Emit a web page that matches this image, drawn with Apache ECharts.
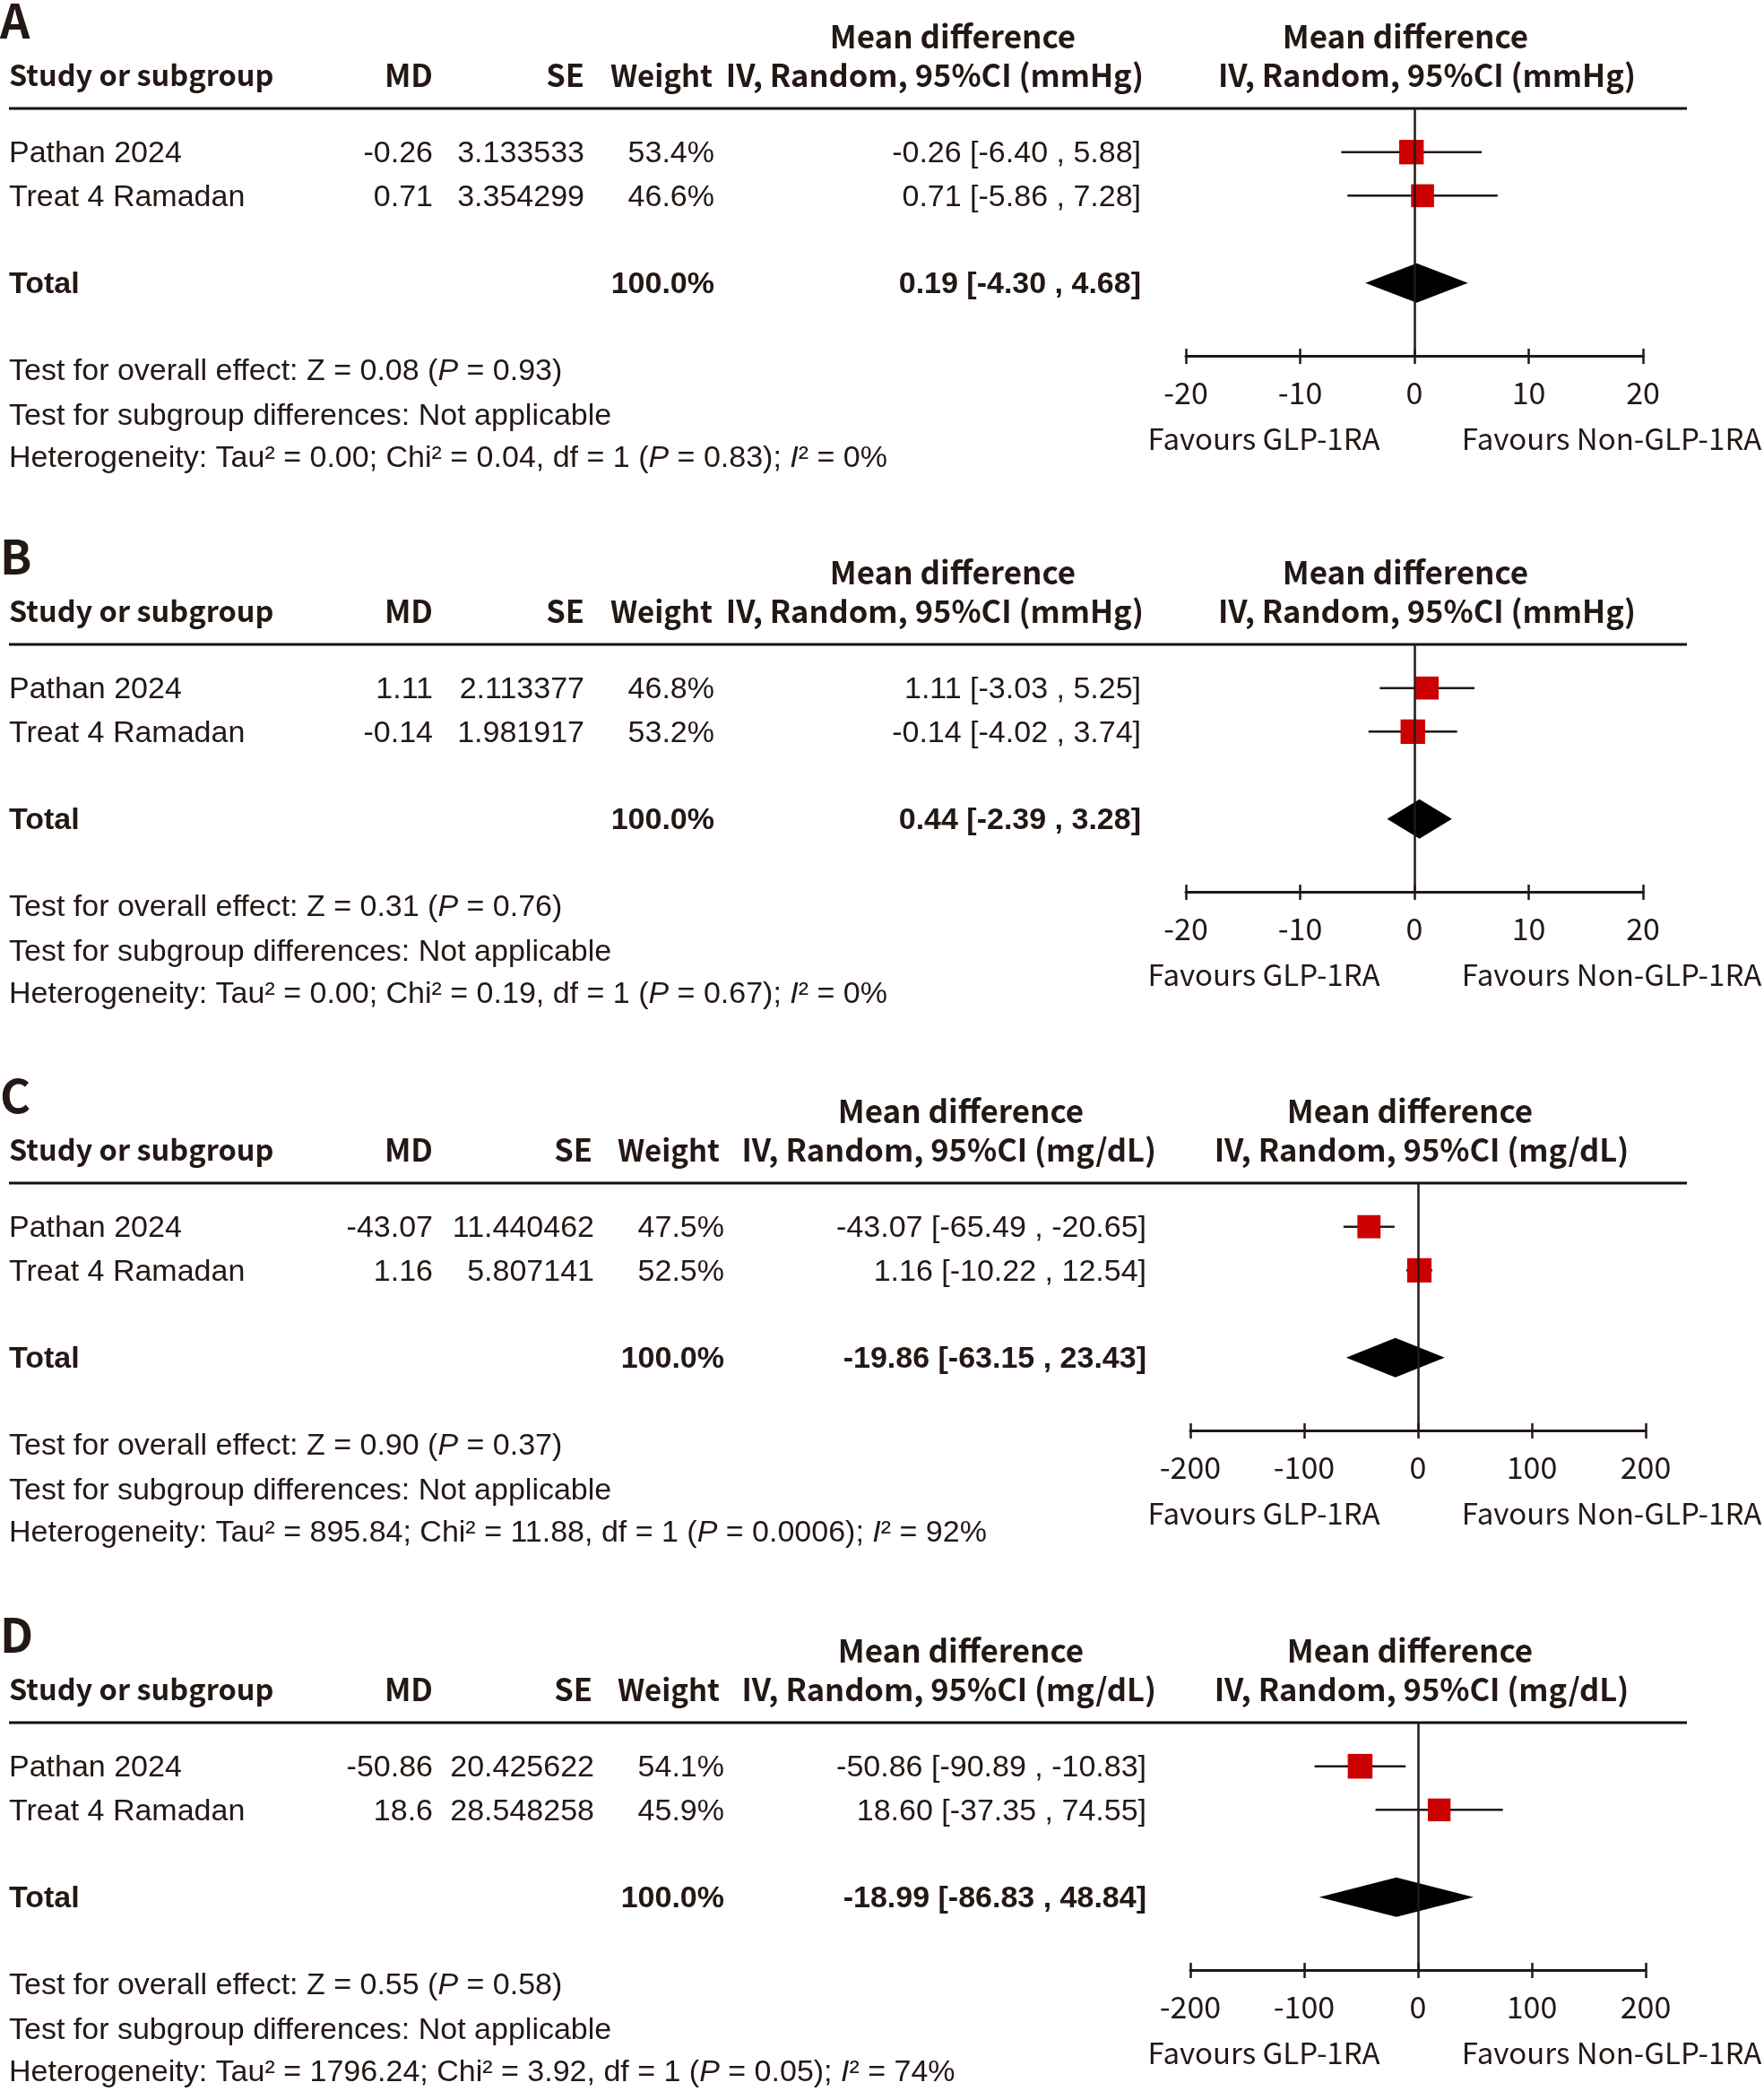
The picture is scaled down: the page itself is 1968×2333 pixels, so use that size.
<!DOCTYPE html>
<html><head><meta charset="utf-8">
<script src="https://cdn.jsdelivr.net/npm/echarts@6/dist/echarts.min.js"></script>
<style>html,body{margin:0;padding:0;background:#fff}#c{width:1968px;height:2333px}</style>
</head><body><div id="c"></div>
<script>
// ---------------- DATA ----------------
const panelLabels = ['A', 'B', 'C', 'D'];
const units = ['mmHg', 'mmHg', 'mg/dL', 'mg/dL'];
const studies = ['Pathan 2024', 'Treat 4 Ramadan'];

const mdA = [-0.26, 0.71];
const seA = ['3.133533', '3.354299'];
const weightA = [53.4, 46.6];
const ciLowA = [-6.40, -5.86];
const ciHighA = [5.88, 7.28];
const totalA = [0.19, -4.30, 4.68];

const mdB = [1.11, -0.14];
const seB = ['2.113377', '1.981917'];
const weightB = [46.8, 53.2];
const ciLowB = [-3.03, -4.02];
const ciHighB = [5.25, 3.74];
const totalB = [0.44, -2.39, 3.28];

const mdC = [-43.07, 1.16];
const seC = ['11.440462', '5.807141'];
const weightC = [47.5, 52.5];
const ciLowC = [-65.49, -10.22];
const ciHighC = [-20.65, 12.54];
const totalC = [-19.86, -63.15, 23.43];

const mdD = [-50.86, 18.6];
const seD = ['20.425622', '28.548258'];
const weightD = [54.1, 45.9];
const ciLowD = [-90.89, -37.35];
const ciHighD = [-10.83, 74.55];
const totalD = [-18.99, -86.83, 48.84];

const ticksAB = [-20, -10, 0, 10, 20];
const ticksCD = [-200, -100, 0, 100, 200];

const zValues = ['0.08', '0.31', '0.90', '0.55'];
const pOverall = ['0.93', '0.76', '0.37', '0.58'];
const tau2 = ['0.00', '0.00', '895.84', '1796.24'];
const chi2 = ['0.04', '0.19', '11.88', '3.92'];
const dfs = ['1', '1', '1', '1'];
const pHet = ['0.83', '0.67', '0.0006', '0.05'];
const i2 = ['0%', '0%', '92%', '74%'];

const leftFavour = 'Favours GLP-1RA';
const rightFavour = 'Favours Non-GLP-1RA';

const studyRows = [1, 2];   // row index on the plot's y scale
const totalRow = 4;

// ---------------- LAYOUT ----------------
const panels = [
  {md: mdA, se: seA, w: weightA, lo: ciLowA, hi: ciHighA, tot: totalA, ticks: ticksAB},
  {md: mdB, se: seB, w: weightB, lo: ciLowB, hi: ciHighB, tot: totalB, ticks: ticksAB},
  {md: mdC, se: seC, w: weightC, lo: ciLowC, hi: ciHighC, tot: totalC, ticks: ticksCD},
  {md: mdD, se: seD, w: weightD, lo: ciLowD, hi: ciHighD, tot: totalD, ticks: ticksCD}
];
const offsets = [0, 598, 1199, 1801];
const colsAB = {mdR: 483, seR: 652, wR: 797, ciR: 1273, hSeR: 652, hWR: 795, mid1C: 1063, mid2R: 1276, r1C: 1568, r2C: 1592, axL: 1323, axR: 1833};
const colsCD = {mdR: 483, seR: 663, wR: 808, ciR: 1279, hSeR: 661, hWR: 803, mid1C: 1072, mid2R: 1290, r1C: 1573, r2C: 1586, axL: 1328, axR: 1836};
const COL = '#231815';
const FH = "'Noto Sans CJK JP', 'Noto Sans', sans-serif";        // headers / axis
const FB = "'Liberation Sans', Arial, sans-serif";                // table body
const FS = 34;     // body size
const HS = 34.5;   // header size
const AS = 34;     // axis label size
const BODY_DY = 2;
const GRID_TOP = 121, GRID_H = 276, Y_MAX = 5.67;

function rowY(off, r) { return off + GRID_TOP + r / Y_MAX * GRID_H; }

const chart = echarts.init(document.getElementById('c'), null, {renderer: 'canvas'});

const grid = [], xAxis = [], yAxis = [], series = [], graphic = [];

function txt(x, y, text, align, bold, size, fam) {
  graphic.push({type: 'text', x: x, y: y, silent: true, style: {
    text: text, fill: COL, font: (bold ? 'bold ' : '') + (size || FS) + 'px ' + (fam || FB),
    align: align || 'left', verticalAlign: 'middle'}});
}
function rich(x, y, text) {
  const base = {fontSize: FS, fontFamily: FB, fill: COL};
  graphic.push({type: 'text', x: x, y: y, silent: true, style: {
    text: text, align: 'left', verticalAlign: 'middle', fontSize: FS, fontFamily: FB, fill: COL,
    rich: {n: base, i: Object.assign({}, base, {fontStyle: 'italic'})}}});
}

panels.forEach((p, k) => {
  const off = offsets[k];
  const c = k < 2 ? colsAB : colsCD;
  const u = units[k];
  const tmin = p.ticks[0], tmax = p.ticks[p.ticks.length - 1];
  grid.push({left: c.axL, width: c.axR - c.axL, top: off + GRID_TOP, height: GRID_H, containLabel: false});
  const axBase = {type: 'value', gridIndex: k, min: tmin, max: tmax, interval: p.ticks[1] - p.ticks[0], splitLine: {show: false}};
  xAxis.push(Object.assign({}, axBase, {
    position: 'bottom',
    axisLine: {show: true, onZero: false, lineStyle: {color: COL, width: 3}},
    axisTick: {show: true, inside: false, length: 9, lineStyle: {color: COL, width: 2.5}},
    axisLabel: {show: true, color: COL, fontSize: AS, fontFamily: FH, margin: 24}
  }));
  xAxis.push(Object.assign({}, axBase, {
    position: 'bottom',
    axisLine: {show: false, onZero: false},
    axisTick: {show: true, inside: true, length: 8, lineStyle: {color: COL, width: 2.5}},
    axisLabel: {show: false}
  }));
  yAxis.push({type: 'value', gridIndex: k, min: 0, max: Y_MAX, inverse: true, show: false});

  // error bars
  series.push({type: 'custom', xAxisIndex: 2 * k, yAxisIndex: k, silent: true, z: 2,
    data: studyRows.map((r, i) => [p.lo[i], p.hi[i], r]),
    encode: {x: [0, 1], y: 2},
    renderItem: (params, api) => {
      const y = api.value(2);
      const a = api.coord([api.value(0), y]), b = api.coord([api.value(1), y]);
      return {type: 'line', shape: {x1: a[0], y1: a[1], x2: b[0], y2: b[1]}, style: {stroke: COL, lineWidth: 2.5}};
    }
  });
  // squares
  series.push({type: 'scatter', xAxisIndex: 2 * k, yAxisIndex: k, silent: true, z: 3,
    symbol: 'rect', symbolSize: v => 3.75 * Math.sqrt(v[2]),
    itemStyle: {color: '#cc0000', opacity: 1},
    data: studyRows.map((r, i) => [p.md[i], r, p.w[i]]),
    markLine: {silent: true, symbol: ['none', 'none'], label: {show: false},
      lineStyle: {color: COL, width: 2.5, type: 'solid'}, data: [{xAxis: 0}]}
  });
  // diamond
  series.push({type: 'custom', xAxisIndex: 2 * k, yAxisIndex: k, silent: true, z: 3,
    data: [[p.tot[0], p.tot[1], p.tot[2], totalRow]],
    encode: {x: [0, 1, 2], y: 3},
    renderItem: (params, api) => {
      const y = api.value(3);
      const m = api.coord([api.value(0), y]), l = api.coord([api.value(1), y]), r = api.coord([api.value(2), y]);
      const h = 22;
      return {type: 'polygon', shape: {points: [[l[0], l[1]], [m[0], m[1] - h], [r[0], r[1]], [m[0], m[1] + h]]}, style: {fill: '#000'}};
    }
  });

  // ---- table text ----
  txt(0, off + 23, panelLabels[k], 'left', true, 52, FH);
  txt(c.mid1C, off + 41, 'Mean difference', 'center', true, 35, FH);
  txt(c.r1C, off + 41, 'Mean difference', 'center', true, 35, FH);
  txt(10, off + 84, 'Study or subgroup', 'left', true, 32.5, FH);
  txt(c.mdR, off + 84, 'MD', 'right', true, HS, FH);
  txt(c.hSeR, off + 84, 'SE', 'right', true, HS, FH);
  txt(c.hWR, off + 84, 'Weight', 'right', true, 33, FH);
  txt(c.mid2R, off + 84, 'IV, Random, 95%CI (' + u + ')', 'right', true, HS, FH);
  txt(c.r2C, off + 84, 'IV, Random, 95%CI (' + u + ')', 'center', true, HS, FH);
  graphic.push({type: 'line', silent: true, shape: {x1: 10, y1: off + GRID_TOP, x2: 1882, y2: off + GRID_TOP}, style: {stroke: '#111', lineWidth: 3}});

  studyRows.forEach((r, i) => {
    const y = rowY(off, r) + BODY_DY;
    txt(10, y, studies[i], 'left');
    txt(c.mdR, y, String(p.md[i]), 'right');
    txt(c.seR, y, p.se[i], 'right');
    txt(c.wR, y, p.w[i].toFixed(1) + '%', 'right');
    txt(c.ciR, y, p.md[i].toFixed(2) + ' [' + p.lo[i].toFixed(2) + ' , ' + p.hi[i].toFixed(2) + ']', 'right');
  });
  const ty = rowY(off, totalRow) + BODY_DY;
  txt(10, ty, 'Total', 'left', true);
  txt(c.wR, ty, '100.0%', 'right', true);
  txt(c.ciR, ty, p.tot[0].toFixed(2) + ' [' + p.tot[1].toFixed(2) + ' , ' + p.tot[2].toFixed(2) + ']', 'right', true);

  rich(10, off + 415, '{n|Test for overall effect: Z = ' + zValues[k] + ' (}{i|P}{n| = ' + pOverall[k] + ')}');
  txt(10, off + 465, 'Test for subgroup differences: Not applicable', 'left');
  rich(10, off + 512, '{n|Heterogeneity: Tau² = ' + tau2[k] + '; Chi² = ' + chi2[k] + ', df = ' + dfs[k] + ' (}{i|P}{n| = ' + pHet[k] + '); }{i|I}{n|² = ' + i2[k] + '}');

  txt(1410, off + 489, leftFavour, 'center', false, 33, FH);
  txt(1798, off + 489, rightFavour, 'center', false, 33, FH);
});

chart.setOption({
  animation: false,
  backgroundColor: '#fff',
  grid: grid, xAxis: xAxis, yAxis: yAxis, series: series, graphic: graphic
});
</script></body></html>
